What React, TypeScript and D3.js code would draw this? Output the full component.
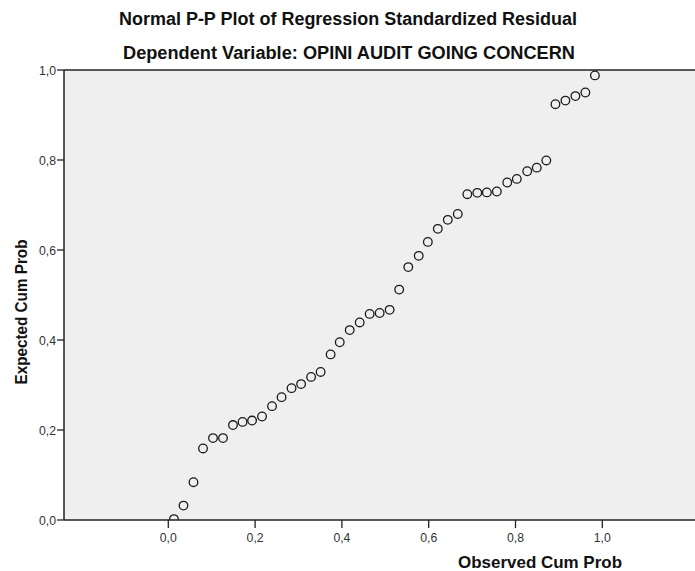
import React from 'react';
import * as d3 from 'd3';

// observed vs expected cumulative probabilities
const OBSERVED = [
  0.013, 0.035, 0.058, 0.080, 0.103, 0.126, 0.149, 0.171, 0.193, 0.216, 0.239,
  0.261, 0.284, 0.306, 0.329, 0.351, 0.374, 0.395, 0.418, 0.441, 0.464, 0.487,
  0.510, 0.532, 0.553, 0.577, 0.598, 0.621, 0.644, 0.667, 0.689, 0.712, 0.734,
  0.757, 0.781, 0.803, 0.827, 0.849, 0.871, 0.892, 0.915, 0.938, 0.961, 0.983,
];
const EXPECTED = [
  0.002, 0.032, 0.084, 0.159, 0.182, 0.182, 0.211, 0.218, 0.221, 0.230, 0.253,
  0.273, 0.293, 0.302, 0.318, 0.329, 0.368, 0.395, 0.422, 0.439, 0.458, 0.460,
  0.467, 0.512, 0.562, 0.587, 0.618, 0.647, 0.667, 0.680, 0.724, 0.727, 0.728,
  0.730, 0.750, 0.758, 0.775, 0.783, 0.799, 0.924, 0.932, 0.942, 0.950, 0.988,
];
const X_TICKS = [0, 0.2, 0.4, 0.6, 0.8, 1.0];
const Y_TICKS = [0, 0.2, 0.4, 0.6, 0.8, 1.0];

const TITLE = 'Normal P-P Plot of Regression Standardized Residual';
const SUBTITLE = 'Dependent Variable: OPINI AUDIT GOING CONCERN';
const X_LABEL = 'Observed Cum Prob';
const Y_LABEL = 'Expected Cum Prob';

const W = 695;
const H = 571;
const plot = { left: 64, top: 70, right: 700, bottom: 520 };

const FONT = '"Liberation Sans Narrow", "Arial Narrow", "Liberation Sans", Arial, sans-serif';

const fmt = (v: number) => d3.format('.1f')(v).replace('.', ',');

const App: React.FC = () => {
  const x = d3.scaleLinear().domain([0, 1]).range([168.3, 602.3]);
  const y = d3.scaleLinear().domain([0, 1]).range([plot.bottom, plot.top]);
  const pts = OBSERVED.map((o, i) => ({ o, e: EXPECTED[i] }));

  return (
    <svg width={W} height={H} style={{ position: 'absolute', left: 0, top: 0, background: '#fff' }}>
      <defs>
        <clipPath id="plotClip">
          <rect x={plot.left} y={plot.top} width={plot.right - plot.left} height={plot.bottom - plot.top} />
        </clipPath>
      </defs>

      {/* titles */}
      <text x={348} y={25} textAnchor="middle" fontFamily={FONT} fontWeight="bold" fontSize={18}
        fill="#111" textLength={458} lengthAdjust="spacingAndGlyphs">{TITLE}</text>
      <text x={349} y={59} textAnchor="middle" fontFamily={FONT} fontWeight="bold" fontSize={18}
        fill="#111" textLength={452} lengthAdjust="spacingAndGlyphs">{SUBTITLE}</text>

      {/* plot background */}
      <rect x={plot.left} y={plot.top} width={plot.right - plot.left} height={plot.bottom - plot.top} fill="#efefef" />

      {/* points */}
      <g clipPath="url(#plotClip)">
        {pts.map((p, i) => (
          <circle key={i} cx={x(p.o)} cy={y(p.e)} r={4.3} fill="none" stroke="#1a1a1a" strokeWidth={1.3} />
        ))}
      </g>

      {/* frame */}
      <line x1={plot.left} x2={plot.right} y1={plot.top} y2={plot.top} stroke="#222" strokeWidth={1.5} />
      <line x1={plot.left} x2={plot.left} y1={plot.top} y2={plot.bottom} stroke="#222" strokeWidth={1.5} />
      <line x1={plot.left} x2={plot.right} y1={plot.bottom} y2={plot.bottom} stroke="#222" strokeWidth={1.5} />

      {/* y axis */}
      {Y_TICKS.map((t) => (
        <g key={t}>
          <line x1={plot.left - 7} x2={plot.left} y1={y(t)} y2={y(t)} stroke="#222" strokeWidth={1.3} />
          <text x={plot.left - 8} y={y(t) + 4.5} textAnchor="end" fontFamily={FONT} fontSize={13.5} fill="#333"
            textLength={17} lengthAdjust="spacingAndGlyphs">{fmt(t)}</text>
        </g>
      ))}

      {/* x axis */}
      {X_TICKS.map((t) => (
        <g key={t}>
          <line x1={x(t)} x2={x(t)} y1={plot.bottom} y2={plot.bottom + 8} stroke="#222" strokeWidth={1.3} />
          <text x={x(t)} y={plot.bottom + 22} textAnchor="middle" fontFamily={FONT} fontSize={13.5} fill="#333"
            textLength={17} lengthAdjust="spacingAndGlyphs">{fmt(t)}</text>
        </g>
      ))}

      {/* axis labels */}
      <text x={540} y={568} textAnchor="middle" fontFamily={FONT} fontWeight="bold" fontSize={17}
        fill="#111" textLength={164} lengthAdjust="spacingAndGlyphs">{X_LABEL}</text>
      <text transform={`translate(27, 312) rotate(-90)`} textAnchor="middle" fontFamily={FONT} fontWeight="bold"
        fontSize={17} fill="#111" textLength={145} lengthAdjust="spacingAndGlyphs">{Y_LABEL}</text>
    </svg>
  );
};

export default App;
